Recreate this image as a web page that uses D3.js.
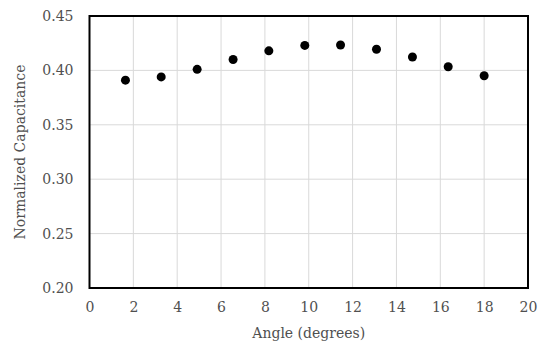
<!DOCTYPE html>
<html>
<head>
<meta charset="utf-8">
<script src="https://cdn.jsdelivr.net/npm/d3@7"></script>
<style>
  body { margin: 0; background: #fff; }
  svg text { font-family: "DejaVu Serif", "Liberation Serif", serif; fill: #505050; }
</style>
</head>
<body>
<div class="chart"></div>
<script>
// data
const angles = [1.64, 3.27, 4.91, 6.55, 8.18, 9.82, 11.45, 13.09, 14.73, 16.36, 18.0];
const capacitance = [0.391, 0.394, 0.401, 0.410, 0.418, 0.423, 0.4233, 0.4194, 0.4123, 0.4034, 0.3951];
const xTicks = [0, 2, 4, 6, 8, 10, 12, 14, 16, 18, 20];
const yTicks = [0.20, 0.25, 0.30, 0.35, 0.40, 0.45];

const width = 550;
const height = 349;
const margin = { top: 16, right: 22, bottom: 61, left: 89.5 };

const svg = d3
  .select(".chart")
  .append("svg")
  .attr("width", width)
  .attr("height", height);

const x = d3.scaleLinear().domain([0, 20]).range([margin.left, width - margin.right]);
const y = d3.scaleLinear().domain([0.2, 0.45]).range([height - margin.bottom, margin.top]);

// gridlines
svg
  .append("g")
  .selectAll("line.vgrid")
  .data(xTicks.slice(1, -1))
  .enter()
  .append("line")
  .attr("x1", (d) => x(d))
  .attr("x2", (d) => x(d))
  .attr("y1", y(0.2))
  .attr("y2", y(0.45))
  .attr("stroke", "#d9d9d9")
  .attr("stroke-width", 1);

svg
  .append("g")
  .selectAll("line.hgrid")
  .data(yTicks.slice(1, -1))
  .enter()
  .append("line")
  .attr("x1", x(0))
  .attr("x2", x(20))
  .attr("y1", (d) => y(d))
  .attr("y2", (d) => y(d))
  .attr("stroke", "#d9d9d9")
  .attr("stroke-width", 1);

// plot border
svg
  .append("rect")
  .attr("x", x(0))
  .attr("y", y(0.45))
  .attr("width", x(20) - x(0))
  .attr("height", y(0.2) - y(0.45))
  .attr("fill", "none")
  .attr("stroke", "#000")
  .attr("stroke-width", 2);

// tick labels
const xAxis = d3.axisBottom(x).tickValues(xTicks).tickSize(0).tickPadding(14).tickFormat(d3.format("d"));
svg
  .append("g")
  .attr("transform", `translate(0,${y(0.2)})`)
  .call(xAxis)
  .call((g) => g.select(".domain").remove())
  .selectAll("text")
  .attr("font-size", 14)
  .attr("font-family", null);

const yAxis = d3.axisLeft(y).tickValues(yTicks).tickSize(0).tickPadding(16).tickFormat(d3.format(".2f"));
svg
  .append("g")
  .attr("transform", `translate(${x(0)},0)`)
  .call(yAxis)
  .call((g) => g.select(".domain").remove())
  .selectAll("text")
  .attr("font-size", 14)
  .attr("font-family", null);

// points
svg
  .append("g")
  .selectAll("circle")
  .data(angles)
  .enter()
  .append("circle")
  .attr("cx", (d) => x(d))
  .attr("cy", (d, i) => y(capacitance[i]))
  .attr("r", 4.5)
  .attr("fill", "#000");

// axis titles
svg
  .append("text")
  .attr("x", (x(0) + x(20)) / 2)
  .attr("y", 338)
  .attr("text-anchor", "middle")
  .attr("font-size", 14)
  .text("Angle (degrees)");

svg
  .append("text")
  .attr("transform", `translate(25,${(y(0.2) + y(0.45)) / 2}) rotate(-90)`)
  .attr("text-anchor", "middle")
  .attr("font-size", 14)
  .text("Normalized Capacitance");
</script>
</body>
</html>
